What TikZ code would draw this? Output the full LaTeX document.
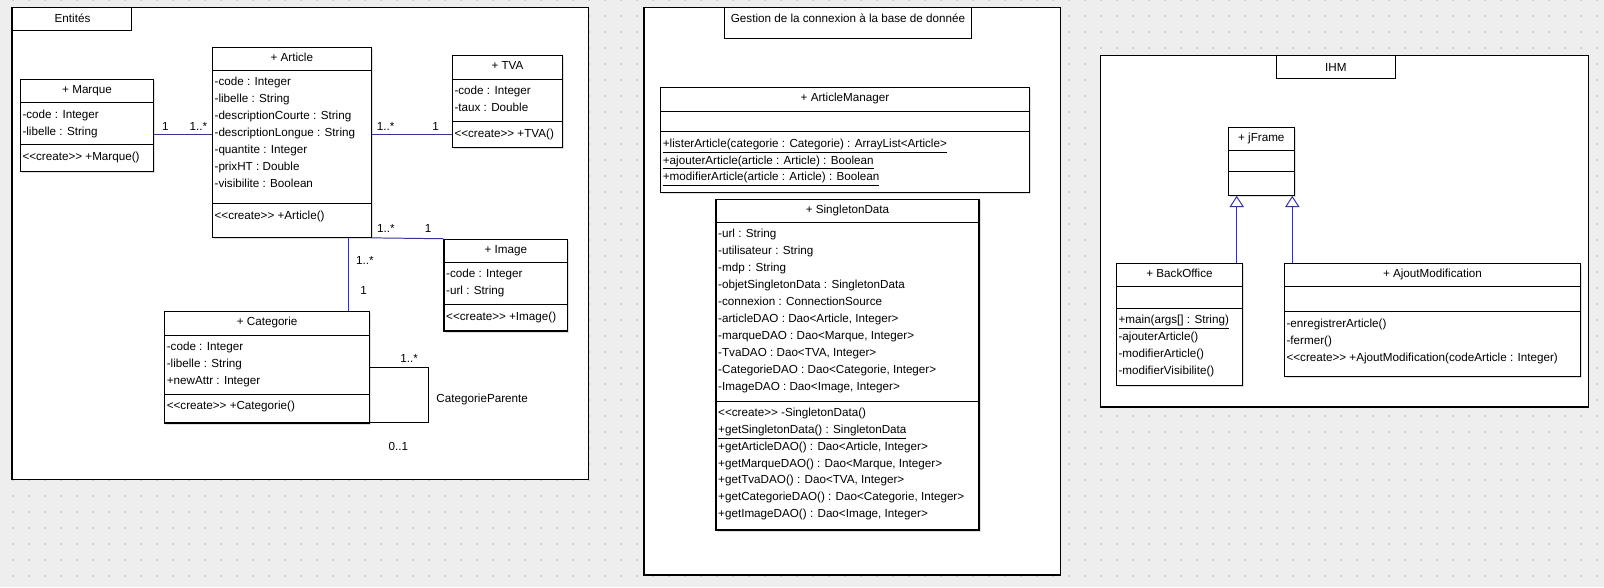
\documentclass[tikz,border=0pt]{standalone}
\usepackage{fontspec}
\setmainfont{Liberation Sans}
\usepackage{tikz}
\usetikzlibrary{positioning, arrows.meta, calc, fit, shadows}
\definecolor{canvasgray}{RGB}{238,238,238}
\definecolor{griddot}{RGB}{208,208,208}
\definecolor{assocblue}{RGB}{51,51,153}
\newcommand{\umlfont}{\fontsize{8.3}{10}\selectfont}
\newcommand{\stereo}[1]{<\kern0pt<#1>\kern0pt>}

\begin{document}
\begin{tikzpicture}[x=0.025cm, y=-0.025cm,
    pkgbox/.style={draw=black, line width=0.8pt, fill=white, inner sep=0pt},
    classbox/.style={draw=black, line width=0.8pt, fill=white, inner sep=0pt,
        drop shadow={shadow xshift=0.04cm, shadow yshift=-0.04cm, fill=black!40, opacity=0.3}},
    divider/.style={draw=black, line width=0.8pt},
    title/.style={font=\umlfont, inner sep=0pt, text height=8pt, text depth=0.8pt},
    member/.style={font=\umlfont, anchor=west, inner sep=0pt, text height=8pt, text depth=0.8pt},
    mult/.style={font=\umlfont, inner sep=0pt, text height=8pt, text depth=0.8pt},
    assoc/.style={draw=assocblue, line width=0.7pt},
    selfassoc/.style={draw=black, line width=0.7pt},
    gen/.style={draw=assocblue, line width=0.7pt, -{Triangle[open, width=0.36cm, length=0.28cm]}}
]
    % Fond
    \useasboundingbox (0,0) rectangle (1604,587);
    \fill[canvasgray] (0,0) rectangle (1604,587);
    \foreach \gx in {12.7,28.7,...,1604}
        \foreach \gy in {0,16,...,587}
            \fill[griddot] (\gx-1,\gy-1) rectangle ++(2,2);

    % Paquetages
    \node[pkgbox, fit={(12,7.3) (588.7,479.3)}] (entites) {};
    \node[pkgbox, fit={(12,7.3) (131.5,30.7)}] (entites-tab) {};
    \node[title] (entites-t) at (72.5,17.5) {Entités};

    \node[pkgbox, fit={(644,7.3) (1060.3,575)}] (gestion) {};
    \node[pkgbox, fit={(724.3,7.3) (971.7,38.3)}] (gestion-tab) {};
    \node[title] (gestion-t) at (848,17.5) {Gestion de la connexion à la base de donnée};

    \node[pkgbox, fit={(1100.3,55.3) (1588.7,407)}] (ihm) {};
    \node[pkgbox, fit={(1276.3,55.3) (1395.3,78.3)}] (ihm-tab) {};
    \node[title] (ihm-t) at (1335.8,66) {IHM};

    % Marque
    \node[classbox, fit={(20.3,79.3) (153.8,171.3)}] (marque) {};
    \node[title] (marque-t) at ($(marque.north)+(0,9.5)$) {+ Marque};
    \draw[divider] ($(marque.north west)+(0,24)$) -- ($(marque.north east)+(0,24)$);
    \draw[divider] ($(marque.north west)+(0,66)$) -- ($(marque.north east)+(0,66)$);
    \foreach \m [count=\i from 0] in {-code : Integer, -libelle : String}
        \node[member] (marque-a\i) at ($(marque.north west)+(2.5,34.4+17*\i)$) {\m};
    \node[member] (marque-m0) at ($(marque.north west)+(2.5,77)$) {\stereo{create} +Marque()};

    % Article
    \node[classbox, fit={(212.4,47.3) (371.2,237.3)}] (article) {};
    \node[title] (article-t) at ($(article.north)+(0,9.5)$) {+ Article};
    \draw[divider] ($(article.north west)+(0,24)$) -- ($(article.north east)+(0,24)$);
    \draw[divider] ($(article.north west)+(0,157)$) -- ($(article.north east)+(0,157)$);
    \foreach \m [count=\i from 0] in {-code : Integer, -libelle : String,
            -descriptionCourte : String, -descriptionLongue : String,
            -quantite : Integer, -prixHT : Double, -visibilite : Boolean}
        \node[member] (article-a\i) at ($(article.north west)+(2.5,34+17*\i)$) {\m};
    \node[member] (article-m0) at ($(article.north west)+(2.5,167.4)$) {\stereo{create} +Article()};

    % TVA
    \node[classbox, fit={(452.3,55.7) (562.6,147.3)}] (tva) {};
    \node[title] (tva-t) at ($(tva.north)+(0,9.5)$) {+ TVA};
    \draw[divider] ($(tva.north west)+(0,24)$) -- ($(tva.north east)+(0,24)$);
    \draw[divider] ($(tva.north west)+(0,66.3)$) -- ($(tva.north east)+(0,66.3)$);
    \foreach \m [count=\i from 0] in {-code : Integer, -taux : Double}
        \node[member] (tva-a\i) at ($(tva.north west)+(2.5,34.3+17*\i)$) {\m};
    \node[member] (tva-m0) at ($(tva.north west)+(2.5,77)$) {\stereo{create} +TVA()};

    % Image
    \node[classbox, fit={(444,239.3) (567.5,331)}] (image) {};
    \node[title] (image-t) at ($(image.north)+(0,9.5)$) {+ Image};
    \draw[divider] ($(image.north west)+(0,24)$) -- ($(image.north east)+(0,24)$);
    \draw[divider] ($(image.north west)+(0,66)$) -- ($(image.north east)+(0,66)$);
    \foreach \m [count=\i from 0] in {-code : Integer, -url : String}
        \node[member] (image-a\i) at ($(image.north west)+(2.5,34+17*\i)$) {\m};
    \node[member] (image-m0) at ($(image.north west)+(2.5,77)$) {\stereo{create} +Image()};

    % Categorie
    \node[classbox, fit={(164.6,311.3) (369.7,423)}] (categorie) {};
    \node[title] (categorie-t) at ($(categorie.north)+(0,9.5)$) {+ Categorie};
    \draw[divider] ($(categorie.north west)+(0,24.4)$) -- ($(categorie.north east)+(0,24.4)$);
    \draw[divider] ($(categorie.north west)+(0,83.7)$) -- ($(categorie.north east)+(0,83.7)$);
    \foreach \m [count=\i from 0] in {-code : Integer, -libelle : String, +newAttr : Integer}
        \node[member] (categorie-a\i) at ($(categorie.north west)+(2.5,34.7+17*\i)$) {\m};
    \node[member] (categorie-m0) at ($(categorie.north west)+(2.5,93.7)$) {\stereo{create} +Categorie()};

    % ArticleManager
    \node[classbox, fit={(660.7,87.7) (1029.3,192.3)}] (manager) {};
    \node[title] (manager-t) at ($(manager.north)+(0,9.5)$) {+ ArticleManager};
    \draw[divider] ($(manager.north west)+(0,24)$) -- ($(manager.north east)+(0,24)$);
    \draw[divider] ($(manager.north west)+(0,44.6)$) -- ($(manager.north east)+(0,44.6)$);
    \foreach \m [count=\i from 0] in {
            {\underline{+listerArticle(categorie : Categorie) : ArrayList<Article>}},
            {\underline{+ajouterArticle(article : Article) : Boolean}},
            {\underline{+modifierArticle(article : Article) : Boolean}}}
        \node[member] (manager-m\i) at ($(manager.north west)+(2.5,55.3+16.7*\i)$) {\m};

    % SingletonData
    \node[classbox, fit={(716,199.3) (979,530)}] (singleton) {};
    \node[title] (singleton-t) at ($(singleton.north)+(0,9.5)$) {+ SingletonData};
    \draw[divider] ($(singleton.north west)+(0,24)$) -- ($(singleton.north east)+(0,24)$);
    \draw[divider] ($(singleton.north west)+(0,202.4)$) -- ($(singleton.north east)+(0,202.4)$);
    \foreach \m [count=\i from 0] in {-url : String, -utilisateur : String, -mdp : String,
            -objetSingletonData : SingletonData, -connexion : ConnectionSource,
            {-articleDAO : Dao<Article, Integer>}, {-marqueDAO : Dao<Marque, Integer>},
            {-TvaDAO : Dao<TVA, Integer>}, {-CategorieDAO : Dao<Categorie, Integer>},
            {-ImageDAO : Dao<Image, Integer>}}
        \node[member] (singleton-a\i) at ($(singleton.north west)+(2.5,34+17*\i)$) {\m};
    \foreach \m [count=\i from 0] in {\stereo{create} -SingletonData(),
            {\underline{+getSingletonData() : SingletonData}},
            {+getArticleDAO() : Dao<Article, Integer>}, {+getMarqueDAO() : Dao<Marque, Integer>},
            {+getTvaDAO() : Dao<TVA, Integer>}, {+getCategorieDAO() : Dao<Categorie, Integer>},
            {+getImageDAO() : Dao<Image, Integer>}}
        \node[member] (singleton-m\i) at ($(singleton.north west)+(2.5,213+16.75*\i)$) {\m};

    % jFrame
    \node[classbox, fit={(1228.3,127.3) (1294.3,195.3)}] (jframe) {};
    \node[title] (jframe-t) at ($(jframe.north)+(0,9.5)$) {+ jFrame};
    \draw[divider] ($(jframe.north west)+(0,24)$) -- ($(jframe.north east)+(0,24)$);
    \draw[divider] ($(jframe.north west)+(0,45)$) -- ($(jframe.north east)+(0,45)$);

    % BackOffice
    \node[classbox, fit={(1116.3,263.3) (1242.7,385.3)}] (backoffice) {};
    \node[title] (backoffice-t) at ($(backoffice.north)+(0,9.5)$) {+ BackOffice};
    \draw[divider] ($(backoffice.north west)+(0,24)$) -- ($(backoffice.north east)+(0,24)$);
    \draw[divider] ($(backoffice.north west)+(0,45.4)$) -- ($(backoffice.north east)+(0,45.4)$);
    \foreach \m [count=\i from 0] in {{\underline{+main(args[] : String)}},
            -ajouterArticle(), -modifierArticle(), -modifierVisibilite()}
        \node[member] (backoffice-m\i) at ($(backoffice.north west)+(2.5,56+16.8*\i)$) {\m};

    % AjoutModification
    \node[classbox, fit={(1284.3,263.3) (1580.7,376.3)}] (ajout) {};
    \node[title] (ajout-t) at ($(ajout.north)+(0,9.5)$) {+ AjoutModification};
    \draw[divider] ($(ajout.north west)+(0,24)$) -- ($(ajout.north east)+(0,24)$);
    \draw[divider] ($(ajout.north west)+(0,49)$) -- ($(ajout.north east)+(0,49)$);
    \foreach \m [count=\i from 0] in {-enregistrerArticle(), -fermer(),
            \stereo{create} +AjoutModification(codeArticle : Integer)}
        \node[member] (ajout-m\i) at ($(ajout.north west)+(2.5,59.4+17*\i)$) {\m};

    % Associations
    \draw[assoc] (marque.east |- 0,134.3) -- (article.west |- 0,134.3);
    \node[mult] (m-marque) at (165.3,125) {1};
    \node[mult] (m-article1) at (198.5,125) {1..*};

    \draw[assoc] (article.east |- 0,134.3) -- (tva.west |- 0,134.3);
    \node[mult] (m-article2) at (385.6,125) {1..*};
    \node[mult] (m-tva) at (435.5,125) {1};

    \draw[assoc] (article.south east) -- (image.north west);
    \node[mult] (m-article3) at (385.8,227) {1..*};
    \node[mult] (m-image) at (428,227) {1};

    \draw[assoc] (article.south -| 348.3,0) -- (categorie.north -| 348.3,0);
    \node[mult] (m-article4) at (365,259) {1..*};
    \node[mult] (m-categorie) at (363.6,289.7) {1};

    \draw[selfassoc] (categorie.east |- 0,367) -- (428.6,367) -- (428.6,422.5)
        -- (categorie.east |- 0,422.5);
    \node[mult] (m-enfant) at (409.2,357) {1..*};
    \node[mult] (m-role) at (482.2,397.7) {CategorieParente};
    \node[mult] (m-parent) at (398.4,445) {0..1};

    % Heritage
    \draw[gen] (backoffice.north -| 1236.7,0) -- (jframe.south -| 1236.7,0);
    \draw[gen] (ajout.north -| 1292.3,0) -- (jframe.south -| 1292.3,0);
\end{tikzpicture}
\end{document}
